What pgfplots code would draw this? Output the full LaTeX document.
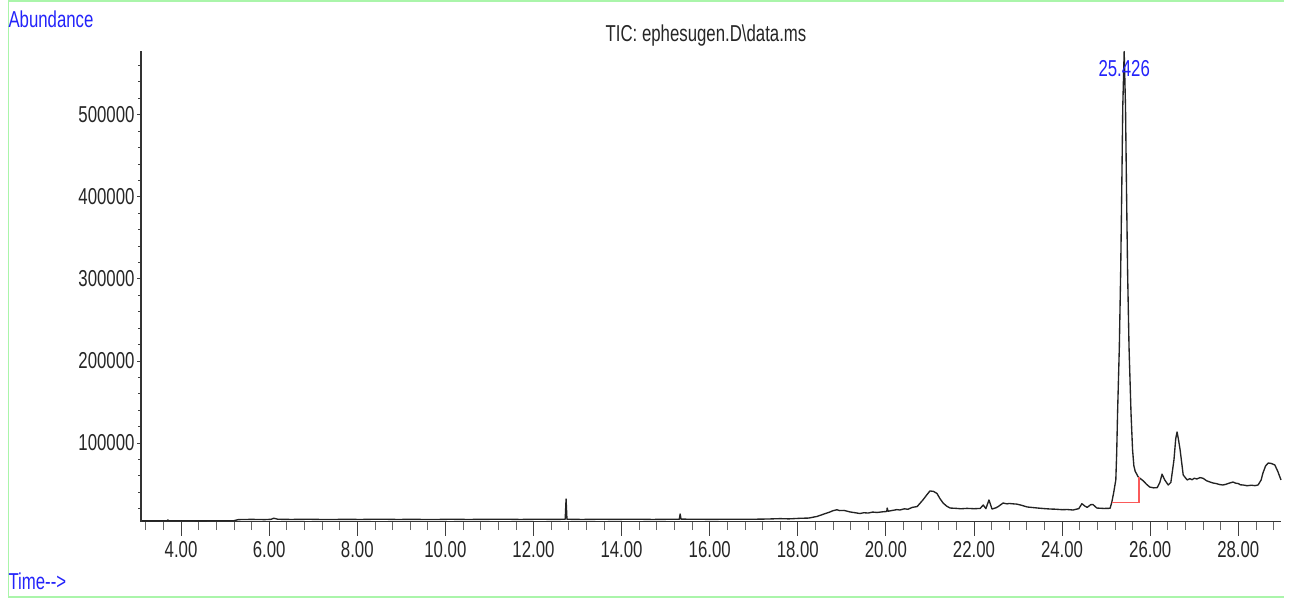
\documentclass[border=0pt]{standalone}
\usepackage{fontspec}
\setmainfont{Liberation Sans}[FakeStretch=0.73]
\usepackage{pgfplots}
\pgfplotsset{compat=1.18}
\definecolor{labblue}{RGB}{35,35,250}
\definecolor{framegreen}{RGB}{170,245,170}
\definecolor{trace}{RGB}{35,35,35}
\definecolor{intred}{RGB}{250,90,90}
\newcommand{\chfont}{\fontsize{23}{26}\selectfont}
\begin{document}
\begin{tikzpicture}[x=1pt,y=1pt]
\path[use as bounding box] (0,0) rectangle (1294,598);
\draw[framegreen, line width=1.6pt] (1284,597) -- (8.3,597) -- (8.3,0.8) -- (1284,0.8);
\pgfplotsset{
  chrom/.style={
    scale only axis, width=1140pt, height=470.8pt,
    at={(141pt,76.5pt)}, anchor=south west,
    xmin=3.09, xmax=28.97, ymin=4300, ymax=578000,
    axis lines*=left, tick align=outside,
    axis line style={line width=1.1pt, color=black!80},
    every tick label/.append style={font=\chfont, text=black!85},
    /pgf/number format/assume math mode=true,
    scaled ticks=false,
    clip=false,
  }
}
% x axis with long ticks and the data
\begin{axis}[chrom, hide y axis,
  major tick length=14pt, minor tick length=8.5pt,
  xtick={4,6,...,28},
  xticklabels={4.00,6.00,8.00,10.00,12.00,14.00,16.00,18.00,20.00,22.00,24.00,26.00,28.00},
  minor xtick={3.2,3.6,4.4,4.8,5.2,5.6,6.4,6.8,7.2,7.6,8.4,8.8,9.2,9.6,10.4,10.8,11.2,11.6,12.4,12.8,13.2,13.6,14.4,14.8,15.2,15.6,16.4,16.8,17.2,17.6,18.4,18.8,19.2,19.6,20.4,20.8,21.2,21.6,22.4,22.8,23.2,23.6,24.4,24.8,25.2,25.6,26.4,26.8,27.2,27.6,28.4,28.8},
  xtick style={line width=0.9pt, black!75},
  minor x tick style={line width=0.7pt, black!60},
  xticklabel style={yshift=-2pt},
]
\addplot[trace, line width=1.35pt, line join=round] coordinates {
(3.09,5000) (3.5,5100) (3.68,5300) (3.70,6200) (3.72,5200) (4.5,5100) (5.2,5300)
(5.3,6600) (5.6,6900) (5.9,6600) (6.05,7000) (6.1,8300) (6.2,7000) (6.5,6800) (6.9,7000)
(7.3,6700) (7.7,6900) (8.1,6800) (8.5,7100) (8.9,6800) (9.3,6900) (9.7,6700) (10.1,7000)
(10.5,6800) (10.9,6900) (11.3,7100) (11.7,6800) (12.1,7000) (12.5,6900) (12.72,7000)
(12.74,31700) (12.76,7000) (13.1,6800) (13.5,7000) (13.9,6900) (14.3,7100)
(14.7,6800) (15.1,7000) (15.31,7000) (15.33,13400) (15.35,7200) (15.7,7000) (16.1,6900)
(16.5,7100) (16.9,7000) (17.3,7300) (17.6,7800) (17.8,7500) (18.05,8200) (18.25,8500) (18.44,10500)
(18.6,13500) (18.73,15900) (18.8,17500) (18.89,18600) (18.95,17600) (19.05,17800) (19.19,15900) (19.3,15000) (19.41,14000)
(19.5,15000) (19.6,14600) (19.7,15800) (19.8,15300) (19.94,16200) (20.02,16500) (20.03,20700) (20.05,16800)
(20.15,17800) (20.25,18800) (20.32,18300) (20.42,19800) (20.5,19200) (20.6,21500) (20.71,22500) (20.84,30500) (20.94,37500)
(21.0,41500) (21.08,41000) (21.16,38500) (21.23,32000) (21.30,26800) (21.38,23000) (21.46,20700) (21.6,20300)
(21.7,19800) (21.84,20300) (22.0,19900) (22.14,20200) (22.21,24400) (22.27,20000) (22.34,30500)
(22.41,19500) (22.5,21000) (22.55,22500) (22.66,26800) (22.75,25800) (22.8,26300) (22.89,25800) (22.97,25500) (23.05,24500)
(23.21,22000) (23.3,21500) (23.45,20700) (23.6,20000) (23.73,19500) (23.85,19300) (24.0,18700) (24.12,18900) (24.25,18300) (24.38,20000)
(24.45,26000) (24.52,23000) (24.57,21500) (24.65,24800) (24.70,25000) (24.79,20700)
(24.95,20200) (25.09,20400) (25.13,28000) (25.17,39000) (25.22,54900) (25.24,87800)
(25.26,136600) (25.30,217000) (25.33,307300) (25.355,408500) (25.378,509800)
(25.41,577000) (25.44,509800) (25.463,408500) (25.488,307300) (25.52,217000)
(25.565,136600) (25.60,92000) (25.63,72000) (25.66,65500) (25.73,58500) (25.84,54000) (25.92,49500) (25.99,46300)
(26.08,45300) (26.16,45600) (26.22,52000) (26.27,62000) (26.33,55000) (26.41,48800) (26.47,52000)
(26.54,79300) (26.58,105000) (26.61,113400) (26.64,105000) (26.68,91500) (26.75,61000)
(26.84,54900) (26.9,56500) (26.95,55200) (27.0,57000) (27.06,56100) (27.13,57800) (27.20,57000) (27.28,54000) (27.36,52400) (27.43,51200) (27.5,50500)
(27.58,49300) (27.65,48800) (27.72,49600) (27.78,50800) (27.88,52400) (27.94,51000) (28.0,50500) (28.05,49000) (28.11,48800) (28.2,47900) (28.3,48500)
(28.38,48000) (28.45,48800) (28.52,55000) (28.56,63400) (28.62,72000) (28.68,75600) (28.75,75000)
(28.83,73200) (28.90,65000) (28.97,54900)
};
\addplot[intred, line width=1.4pt] coordinates {(25.14,27200) (25.75,27200) (25.75,58500)};
\node[labblue, font=\chfont] at (axis cs:25.41,556000) {25.426};
\end{axis}
% y axis with short ticks
\begin{axis}[chrom, hide x axis,
  major tick length=4pt, minor tick length=3pt,
  ytick={100000,200000,300000,400000,500000},
  yticklabels={100000,200000,300000,400000,500000},
  yticklabel style={xshift=1pt},
  minor ytick={20000,40000,60000,80000,120000,140000,160000,180000,220000,240000,260000,280000,320000,340000,360000,380000,420000,440000,460000,480000,520000,540000,560000},
  ytick style={line width=0.8pt, black!75},
]
\end{axis}
\node[labblue, font=\chfont, anchor=west] at (5,579) {Abundance};
\node[black!85, font=\chfont] at (706,562) {TIC: ephesugen.D\textbackslash data.ms};
\node[labblue, font=\chfont, anchor=west] at (5,17) {Time-\kern0pt-\kern0pt>};
\end{tikzpicture}
\end{document}
